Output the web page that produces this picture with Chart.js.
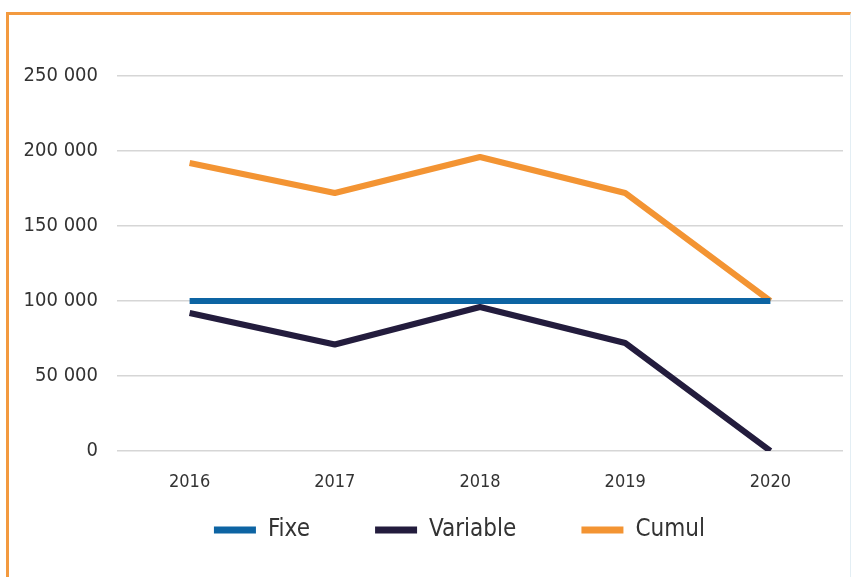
<!DOCTYPE html>
<html>
<head>
<meta charset="utf-8">
<script src="https://cdn.jsdelivr.net/npm/chart.js@4.4.0/dist/chart.umd.min.js"></script>
<style>
    html, body { margin: 0; padding: 0; background: #fff; }
    body { width: 854px; height: 577px; position: relative; overflow: hidden; }
    .frame {
        position: absolute; left: 6px; top: 12px; width: 841px; height: 600px;
        border-top: 3px solid #f39a3f; border-left: 3px solid #f39a3f;
        border-right: 1px solid #e3eef4;
    }
    #wrap { position: absolute; left: 0; top: 0; width: 854px; height: 577px; }
</style>
</head>
<body>
<div class="frame"></div>
<div id="wrap"><canvas id="myChart"></canvas></div>
<script>
const years = ['2016', '2017', '2018', '2019', '2020'];
const fixe = [100000, 100000, 100000, 100000, 100000];
const variable = [92000, 71000, 96000, 72000, 0];
const cumul = [192000, 172000, 196000, 172000, 100000];
const yTicks = [0, 50000, 100000, 150000, 200000, 250000];

function fmt(v) {
    // 250000 -> "250 000"
    return String(v).replace(/\B(?=(\d{3})+(?!\d))/g, ' ');
}

const FONT = 'DejaVu Sans Condensed';
const GAP = '      '; // extra room between legend entries

const ctx = document.getElementById('myChart').getContext('2d');
const myChart = new Chart(ctx, {
    type: 'line',
    data: {
        labels: years,
        datasets: [
            { label: 'Fixe', data: fixe, borderColor: '#0d64a3', backgroundColor: '#0d64a3' },
            { label: 'Variable', data: variable, borderColor: '#231c3d', backgroundColor: '#231c3d' },
            { label: 'Cumul', data: cumul, borderColor: '#f39433', backgroundColor: '#f39433' }
        ]
    },
    options: {
        responsive: true,
        maintainAspectRatio: false,
        animation: false,
        elements: {
            line: { borderWidth: 6, tension: 0, borderCapStyle: 'butt', borderJoinStyle: 'round' },
            point: { radius: 0, hoverRadius: 0 }
        },
        layout: { padding: { top: 76, right: 11, left: 0, bottom: 25 } },
        plugins: {
            tooltip: { enabled: false },
            legend: {
                position: 'bottom',
                fullSize: false,
                labels: {
                    boxWidth: 42,
                    boxHeight: 7,
                    padding: 24,
                    color: '#333',
                    font: { family: FONT, size: 24 },
                    generateLabels: function (chart) {
                        const items = Chart.defaults.plugins.legend.labels.generateLabels(chart);
                        items.forEach(function (it) {
                            it.lineWidth = 0;
                            it.text = it.text + GAP;
                        });
                        return items;
                    }
                }
            }
        },
        scales: {
            x: {
                offset: true,
                afterFit: function (scale) { scale.height = 43; },
                grid: { display: false, drawTicks: false },
                border: { display: false },
                ticks: { color: '#333', padding: 21, font: { family: FONT, size: 18 } }
            },
            y: {
                min: 0,
                max: 250000,
                afterFit: function (scale) { scale.width = 117; },
                afterBuildTicks: function (scale) { scale.ticks = yTicks.map(v => ({ value: v })); },
                grid: { color: '#d6d6d6', lineWidth: 1.5, drawTicks: false },
                border: { display: false },
                ticks: {
                    color: '#333',
                    padding: 19,
                    font: { family: FONT, size: 20 },
                    callback: function (v) { return fmt(v); }
                }
            }
        }
    }
});
</script>
</body>
</html>
